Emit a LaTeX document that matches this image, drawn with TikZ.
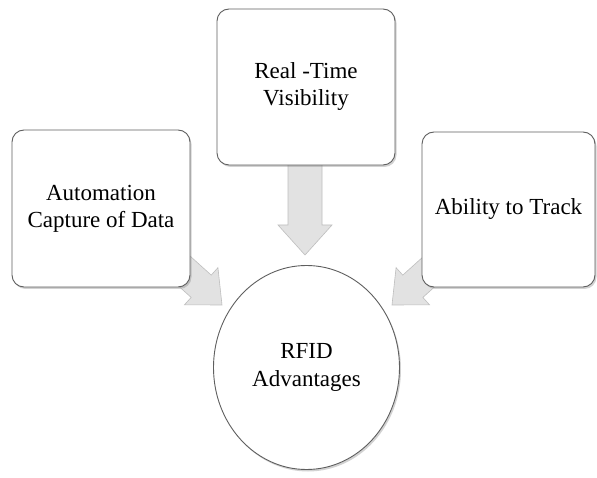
\documentclass[tikz,border=0pt]{standalone}
\usepackage{fontspec}
\setmainfont{Liberation Serif}
\usetikzlibrary{shadows,shapes.geometric}
\definecolor{arrowfill}{RGB}{226,226,226}
\definecolor{arrowline}{RGB}{190,190,190}
\definecolor{boxline}{RGB}{95,95,95}
\tikzset{
  card/.style={draw=boxline, line width=0.9pt, fill=white, rounded corners=12pt,
    align=center, font=\fontsize{23}{27}\selectfont, inner sep=0pt,
    drop shadow={opacity=0.35, shadow xshift=1.5pt, shadow yshift=-2pt}},
  hub/.style={ellipse, draw=boxline, line width=0.9pt, fill=white, align=center,
    font=\fontsize{23}{28}\selectfont, inner sep=0pt,
    minimum width=186pt, minimum height=204pt,
    drop shadow={opacity=0.35, shadow xshift=1.5pt, shadow yshift=-2pt}},
  blockarrow/.style={fill=arrowfill, draw=arrowline, line width=0.6pt, line join=miter}
}
\newcommand{\blockarrowshape}[4]{% len, shaft half width, head length, head half width
  \filldraw[blockarrow] (-#1,-#2) -- (-#3,-#2) -- (-#3,-#4) -- (0,0) -- (-#3,#4) -- (-#3,#2) -- (-#1,#2) -- cycle;}
\begin{document}
\begin{tikzpicture}[x=1pt,y=-1pt]
\useasboundingbox (0,0) rectangle (597,478);
\fill[white] (0,0) rectangle (597,478);
% arrow tips
\coordinate (tipT) at (305,255);
\coordinate (tipL) at (222,305);
\coordinate (tipR) at (392,305);
% block arrows (behind boxes)
\begin{scope}[shift={(tipT)}, rotate=-90]
  \blockarrowshape{95}{17}{30}{27}
\end{scope}
\begin{scope}[shift={(tipL)}, rotate=-42]
  \blockarrowshape{75}{15}{28}{25}
\end{scope}
\begin{scope}[shift={(tipR)}, rotate=-138]
  \blockarrowshape{75}{15}{28}{25}
\end{scope}
% boxes
\node[card, minimum width=178pt, minimum height=157pt] (auto) at (101,208.5) {Automation\\Capture of Data};
\node[card, minimum width=178pt, minimum height=156pt] (real) at (306,87) {Real -Time\\Visibility};
\node[card, minimum width=173pt, minimum height=155pt] (track) at (508.5,209.5) {Ability to Track};
\node[hub] (rfid) at (306.5,367.5) {RFID\\Advantages};
\end{tikzpicture}
\end{document}
